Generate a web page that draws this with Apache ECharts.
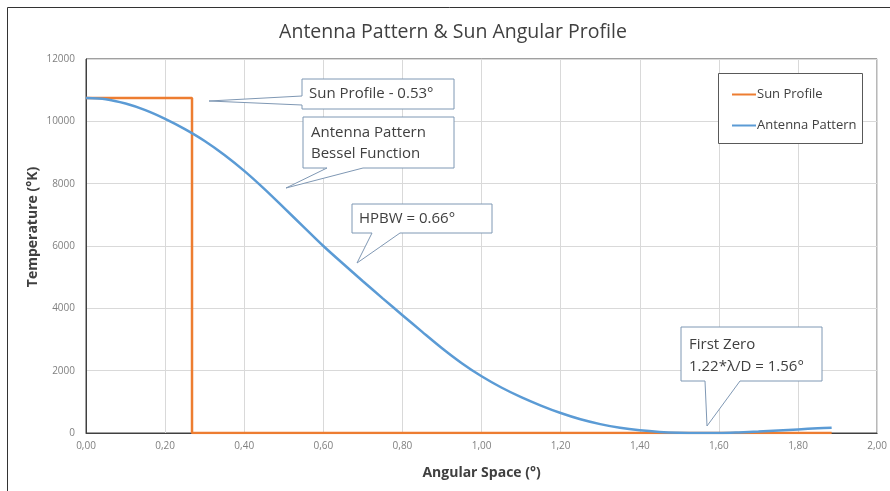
<!DOCTYPE html>
<html>
<head>
<meta charset="utf-8">
<script src="https://cdn.jsdelivr.net/npm/echarts@6/dist/echarts.min.js"></script>
<style>html,body{margin:0;padding:0;background:#fff}#c{width:890px;height:491px}</style>
</head>
<body>
<div id="c"></div>
<script>
// ---- data ----
const sunProfile = [[0, 10750], [0.268, 10750], [0.268, 0], [1.885, 0]];
const antennaX = [0.00,0.05,0.10,0.15,0.20,0.25,0.30,0.35,0.40,0.45,0.50,0.55,0.60,0.65,0.70,0.75,0.80,0.85,0.90,0.95,1.00,1.05,1.10,1.15,1.20,1.25,1.30,1.35,1.40,1.45,1.50,1.55,1.60,1.65,1.70,1.75,1.80,1.85,1.885];
const antennaY = [10750,10710,10570,10360,10080,9750,9370,8920,8410,7840,7230,6615,6000,5430,4870,4320,3780,3245,2720,2240,1820,1460,1150,880,640,440,285,165,85,35,10,2,3,20,45,80,115,150,170];
const seriesNames = ['Sun Profile', 'Antenna Pattern'];
const titleText = 'Antenna Pattern & Sun Angular Profile';
const xName = 'Angular Space (°)';
const yName = 'Temperature (°K)';

const FONT = '"Open Sans", "Noto Sans", sans-serif';
const chart = echarts.init(document.getElementById('c'), null, {renderer: 'canvas'});

function callout(points, lines) {
  const els = [{
    type: 'polygon', shape: {points: points},
    style: {fill: '#fff', stroke: '#7f98b4', lineWidth: 1}, z: 10
  }];
  lines.forEach(l => els.push({
    type: 'text', x: l[0], y: l[1], z: 11,
    style: {text: l[2], fill: '#404040', font: '15px ' + FONT, textVerticalAlign: 'middle'}
  }));
  return els;
}

const graphics = [].concat(
  [{type: 'rect', shape: {x: 7.5, y: 7.5, width: 900, height: 500}, style: {fill: 'none', stroke: '#333', lineWidth: 1}, z: 0, silent: true}],
  [{type: 'text', x: 453, y: 32, style: {text: titleText, fill: '#404040', font: '19.5px ' + FONT, textAlign: 'center', textVerticalAlign: 'middle'}}],
  [{type: 'text', x: 33, y: 227, rotation: Math.PI / 2, style: {text: yName, fill: '#404040', font: 'bold 14px ' + FONT, textAlign: 'center', textVerticalAlign: 'middle'}}],
  callout([[302,79],[454,79],[454,109],[302,109],[302,105],[209,101],[302,96]], [[309,94,'Sun Profile - 0.53°']]),
  callout([[303,117],[454,117],[454,168],[363,168],[286,188],[327,168],[303,168]], [[311,133,'Antenna Pattern'],[311,154,'Bessel Function']]),
  callout([[352,204],[492,204],[492,233],[400,233],[357,263],[372,233],[352,233]], [[359,219,'HPBW = 0.66°']]),
  callout([[681,327],[822,327],[822,381],[740,381],[707,426],[705,381],[681,381]], [[689,345,'First Zero'],[689,367,'1.22*λ/D = 1.56°']]),
  [{type: 'rect', shape: {x: 718.5, y: 73.5, width: 144, height: 70}, style: {fill: '#fff', stroke: '#595959', lineWidth: 1}, z: 5}]
);

chart.setOption({
  animation: false,
  backgroundColor: '#fff',
  grid: {left: 86, right: 12, top: 59, bottom: 58, show: true, borderColor: '#404040', borderWidth: 1},
  legend: {
    orient: 'vertical', left: 727, top: 83, itemGap: 18, itemWidth: 24, itemHeight: 2,
    icon: 'rect', z: 6,
    textStyle: {color: '#404040', fontSize: 13, fontFamily: FONT, padding: [0, 0, 0, -4]},
    data: seriesNames
  },
  xAxis: {
    type: 'value', min: 0, max: 2, interval: 0.2,
    name: xName, nameLocation: 'middle', nameGap: 33,
    nameTextStyle: {color: '#404040', fontSize: 14, fontWeight: 'bold', fontFamily: FONT},
    axisLine: {show: true, onZero: false, lineStyle: {color: '#404040'}},
    axisTick: {show: false},
    axisLabel: {color: '#808080', fontSize: 10, fontFamily: FONT, margin: 8,
      formatter: v => v.toFixed(2).replace('.', ',')},
    splitLine: {show: true, lineStyle: {color: '#d9d9d9'}}
  },
  yAxis: {
    type: 'value', min: 0, max: 12000, interval: 2000,
    axisLine: {show: true, lineStyle: {color: '#404040'}},
    axisTick: {show: false},
    axisLabel: {color: '#808080', fontSize: 10, fontFamily: FONT, margin: 11,
      formatter: v => String(v)},
    splitLine: {show: true, lineStyle: {color: '#d9d9d9'}}
  },
  series: [
    {name: seriesNames[0], type: 'line', data: sunProfile, showSymbol: false, symbol: 'none',
      lineStyle: {color: '#ED7D31', width: 2.5}, itemStyle: {color: '#ED7D31'}, z: 3},
    {name: seriesNames[1], type: 'line', data: antennaX.map((x, i) => [x, antennaY[i]]),
      smooth: 0.3, showSymbol: false, symbol: 'none',
      lineStyle: {color: '#5B9BD5', width: 2.5}, itemStyle: {color: '#5B9BD5'}, z: 4}
  ],
  graphic: graphics
});
</script>
</body>
</html>
